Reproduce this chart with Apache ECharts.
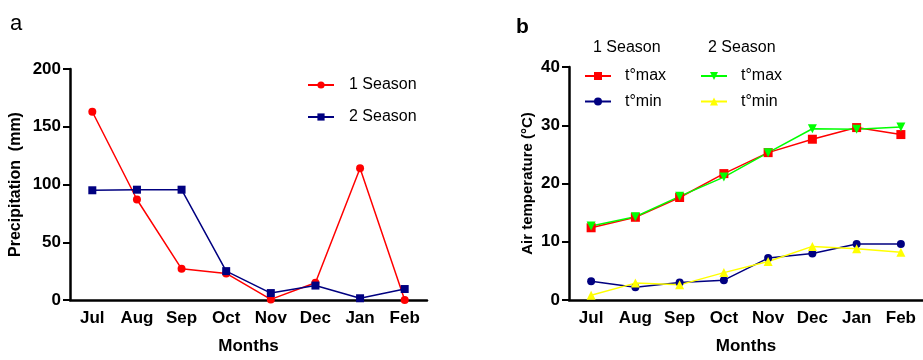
<!DOCTYPE html>
<html>
<head>
<meta charset="utf-8">
<script src="https://cdn.jsdelivr.net/npm/echarts@6/dist/echarts.min.js"></script>
<style>
  html, body { margin: 0; padding: 0; background: #fff; }
  #chart { width: 923px; height: 360px; }
</style>
</head>
<body>
<div id="chart"></div>
<script>
// months shared by both panels
const months = ['Jul', 'Aug', 'Sep', 'Oct', 'Nov', 'Dec', 'Jan', 'Feb']

// panel a - precipitation (mm)
const rain1 = [163, 87, 27, 23, 0.5, 15, 114, 0]
const rain2 = [95, 95.5, 95.5, 25, 6, 12.5, 1.5, 9.5]

// panel b - air temperature (°C)
const tmax1 = [12.4, 14.2, 17.6, 21.7, 25.3, 27.6, 29.6, 28.4]
const tmin1 = [3.2, 2.2, 3.0, 3.4, 7.2, 8.0, 9.6, 9.6]
const tmax2 = [12.7, 14.3, 17.8, 21.1, 25.3, 29.4, 29.3, 29.7]
const tmin2 = [0.8, 2.9, 2.6, 4.7, 6.6, 9.2, 8.8, 8.2]

const FONT = 'Liberation Sans, Arial, sans-serif'

function xAxisBy (gridIndex) {
  return {
    type: 'category',
    gridIndex: gridIndex,
    data: months,
    boundaryGap: true,
    name: 'Months',
    nameLocation: 'middle',
    nameGap: 38,
    nameTextStyle: { color: '#000', fontSize: 17, fontWeight: 'bold', fontFamily: FONT },
    axisLine: { lineStyle: { color: '#000', width: 2.5 } },
    axisTick: { alignWithLabel: true, length: 6, lineStyle: { color: '#000', width: 2 } },
    axisLabel: { interval: 0, margin: 10, color: '#000', fontSize: 17, fontWeight: 'bold', fontFamily: FONT },
    splitLine: { show: false }
  }
}

function yAxisBy (gridIndex, name, max, interval, nameGap, nameSize) {
  return {
    type: 'value',
    gridIndex: gridIndex,
    min: 0,
    max: max,
    interval: interval,
    name: name,
    nameLocation: 'middle',
    nameGap: nameGap,
    nameTextStyle: { color: '#000', fontSize: nameSize, fontWeight: 'bold', fontFamily: FONT },
    axisLine: { show: true, lineStyle: { color: '#000', width: 2.5 } },
    axisTick: { show: true, length: 7, lineStyle: { color: '#000', width: 2 } },
    axisLabel: { margin: 9, color: '#000', fontSize: 17, fontWeight: 'bold', fontFamily: FONT },
    splitLine: { show: false }
  }
}

function lineBy (name, data, color, symbol, size, idx, rotate) {
  return {
    name: name,
    type: 'line',
    xAxisIndex: idx,
    yAxisIndex: idx,
    data: data,
    symbol: symbol,
    symbolSize: size,
    symbolRotate: rotate || 0,
    animation: false,
    itemStyle: { color: color },
    lineStyle: { color: color, width: 1.5 }
  }
}

const legendText = { color: '#000', fontSize: 16, fontFamily: FONT }

const option = {
  backgroundColor: '#fff',
  textStyle: { fontFamily: FONT },
  title: [
    { text: 'a', left: 10, top: 13, padding: 0, textStyle: { fontSize: 22, fontWeight: 'normal', color: '#000', fontFamily: FONT } },
    { text: 'b', left: 516, top: 17, padding: 0, textStyle: { fontSize: 21, fontWeight: 'bold', color: '#000', fontFamily: FONT } },
    { text: '1 Season', left: 593, top: 40, padding: 0, textStyle: { fontSize: 16, fontWeight: 'normal', color: '#000', fontFamily: FONT } },
    { text: '2 Season', left: 708, top: 40, padding: 0, textStyle: { fontSize: 16, fontWeight: 'normal', color: '#000', fontFamily: FONT } }
  ],
  legend: [
    {
      data: ['1 Season', '2 Season'],
      orient: 'vertical',
      left: 307,
      top: 77,
      padding: 0,
      itemGap: 16,
      itemWidth: 26,
      itemHeight: 9,
      textStyle: Object.assign({ padding: [0, 0, 0, 10] }, legendText)
    },
    {
      data: ['max1', 'min1'],
      orient: 'vertical',
      left: 584,
      top: 68,
      padding: 0,
      itemGap: 9.5,
      itemWidth: 26,
      itemHeight: 10,
      formatter: function (n) { return n.indexOf('max') === 0 ? 't°max' : 't°min' },
      textStyle: Object.assign({ padding: [0, 0, 0, 9] }, legendText)
    },
    {
      data: ['max2', 'min2'],
      orient: 'vertical',
      left: 700,
      top: 68,
      padding: 0,
      itemGap: 9.5,
      itemWidth: 26,
      itemHeight: 10,
      formatter: function (n) { return n.indexOf('max') === 0 ? 't°max' : 't°min' },
      textStyle: Object.assign({ padding: [0, 0, 0, 9] }, legendText)
    }
  ],
  grid: [
    { left: 70, right: 496, top: 69, bottom: 54 },
    { left: 569, right: -4, top: 67, bottom: 55 }
  ],
  xAxis: [xAxisBy(0), xAxisBy(1)],
  yAxis: [
    yAxisBy(0, 'Precipitation  (mm)', 200, 50, 46, 16),
    yAxisBy(1, 'Air temperature (°C)', 40, 10, 34, 15)
  ],
  series: [
    lineBy('1 Season', rain1, '#ff0000', 'circle', 8, 0),
    lineBy('2 Season', rain2, '#000080', 'rect', 8, 0),
    lineBy('max1', tmax1, '#ff0000', 'rect', 9, 1),
    lineBy('min1', tmin1, '#000080', 'circle', 8, 1),
    lineBy('max2', tmax2, '#00ff00', 'triangle', 9, 1, 180),
    lineBy('min2', tmin2, '#ffff00', 'triangle', 9, 1)
  ]
}

const myChart = echarts.init(document.getElementById('chart'))
myChart.setOption(option)
</script>
</body>
</html>
